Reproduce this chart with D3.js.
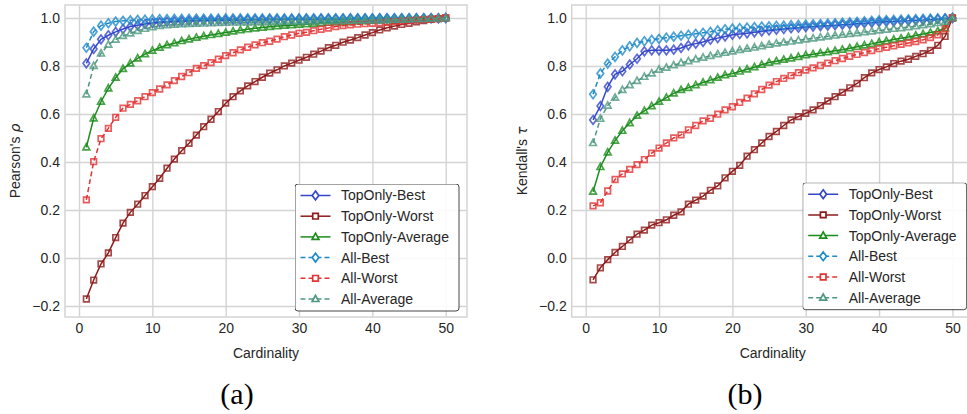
<!DOCTYPE html>
<meta charset="utf-8">
<script src="https://d3js.org/d3.v7.min.js"></script>
<style>
  body { margin: 0; background: #fff; }
  text { fill: #262626; }
</style>
<svg width="967" height="414"></svg>
<script>
// ---- data ----
var cardinality = [1,2,3,4,5,6,7,8,9,10,11,12,13,14,15,16,17,18,19,20,21,22,23,24,25,
                   26,27,28,29,30,31,32,33,34,35,36,37,38,39,40,41,42,43,44,45,46,47,48,49,50];
var xTicks = [0, 10, 20, 30, 40, 50];
var yTicks = [-0.2, 0.0, 0.2, 0.4, 0.6, 0.8, 1.0];
var seriesNames = ["TopOnly-Best", "TopOnly-Worst", "TopOnly-Average", "All-Best", "All-Worst", "All-Average"];

// Pearson's rho
var pTopBest = [0.811,0.871,0.911,0.928,0.942,0.954,0.964,0.970,0.975,0.979,
                0.982,0.984,0.986,0.987,0.988,0.989,0.990,0.990,0.991,0.991,
                0.992,0.992,0.993,0.993,0.993,0.994,0.994,0.994,0.995,0.995,
                0.995,0.995,0.996,0.996,0.996,0.996,0.997,0.997,0.997,0.997,
                0.998,0.998,0.998,0.998,0.998,0.999,0.999,0.999,0.999,1.000];
var pTopWorst = [-0.171,-0.092,-0.025,0.021,0.085,0.145,0.190,0.224,0.260,0.297,
                 0.332,0.374,0.412,0.447,0.478,0.512,0.547,0.578,0.610,0.645,
                 0.672,0.696,0.717,0.735,0.753,0.770,0.784,0.800,0.812,0.824,
                 0.836,0.849,0.862,0.876,0.886,0.899,0.908,0.918,0.929,0.939,
                 0.950,0.959,0.966,0.973,0.978,0.984,0.989,0.994,0.997,1.000];
var pTopAvg = [0.461,0.582,0.651,0.707,0.751,0.788,0.811,0.832,0.849,0.864,
               0.876,0.887,0.895,0.904,0.911,0.918,0.924,0.929,0.934,0.939,
               0.944,0.949,0.953,0.957,0.960,0.963,0.966,0.968,0.970,0.972,
               0.974,0.976,0.978,0.980,0.981,0.983,0.984,0.986,0.987,0.989,
               0.990,0.991,0.992,0.993,0.994,0.995,0.996,0.997,0.998,1.000];
var pAllBest = [0.876,0.943,0.968,0.978,0.985,0.988,0.990,0.992,0.993,0.994,
                0.995,0.995,0.996,0.996,0.996,0.997,0.997,0.997,0.997,0.998,
                0.998,0.998,0.998,0.998,0.998,0.998,0.998,0.998,0.998,0.998,
                0.999,0.999,0.999,0.999,0.999,0.999,0.999,0.999,0.999,0.999,
                0.999,0.999,0.999,0.999,0.999,0.999,0.999,0.999,0.999,1.000];
var pAllWorst = [0.242,0.401,0.497,0.540,0.586,0.624,0.640,0.655,0.672,0.689,
                 0.704,0.721,0.739,0.756,0.772,0.790,0.801,0.814,0.828,0.843,
                 0.855,0.867,0.878,0.888,0.897,0.903,0.912,0.922,0.929,0.936,
                 0.940,0.947,0.953,0.958,0.964,0.968,0.971,0.974,0.976,0.978,
                 0.980,0.983,0.985,0.987,0.989,0.991,0.993,0.995,0.997,1.000];
var pAllAvg = [0.682,0.800,0.852,0.889,0.910,0.925,0.936,0.946,0.955,0.962,
               0.967,0.970,0.972,0.974,0.975,0.976,0.977,0.978,0.979,0.980,
               0.981,0.981,0.982,0.983,0.983,0.984,0.984,0.985,0.985,0.986,
               0.986,0.987,0.987,0.988,0.988,0.989,0.989,0.990,0.990,0.991,
               0.991,0.992,0.993,0.993,0.994,0.995,0.996,0.997,0.998,1.000];

// Kendall's tau
var kTopBest = [0.575,0.633,0.713,0.765,0.778,0.806,0.830,0.861,0.865,0.865,
                0.865,0.868,0.875,0.886,0.893,0.900,0.909,0.916,0.923,0.930,
                0.933,0.936,0.940,0.944,0.948,0.951,0.954,0.957,0.959,0.962,
                0.964,0.966,0.968,0.970,0.972,0.974,0.976,0.978,0.980,0.983,
                0.984,0.985,0.987,0.988,0.990,0.991,0.993,0.995,0.997,1.000];
var kTopWorst = [-0.091,-0.041,-0.007,0.023,0.048,0.075,0.099,0.116,0.137,0.147,
                 0.159,0.178,0.192,0.224,0.241,0.258,0.282,0.300,0.334,0.361,
                 0.386,0.424,0.451,0.479,0.506,0.527,0.552,0.575,0.589,0.603,
                 0.617,0.635,0.654,0.672,0.690,0.709,0.727,0.751,0.771,0.785,
                 0.796,0.810,0.820,0.828,0.840,0.851,0.865,0.886,0.923,1.000];
var kTopAvg = [0.276,0.379,0.440,0.489,0.530,0.562,0.593,0.613,0.633,0.651,
               0.668,0.686,0.700,0.709,0.720,0.731,0.741,0.751,0.762,0.768,
               0.777,0.786,0.795,0.805,0.814,0.820,0.826,0.832,0.838,0.845,
               0.849,0.854,0.858,0.863,0.868,0.874,0.880,0.886,0.892,0.899,
               0.904,0.910,0.915,0.921,0.927,0.933,0.939,0.945,0.958,1.000];
var kAllBest = [0.682,0.769,0.810,0.838,0.865,0.882,0.896,0.903,0.909,0.913,
                0.918,0.922,0.926,0.930,0.934,0.938,0.942,0.948,0.953,0.956,
                0.958,0.960,0.962,0.964,0.965,0.967,0.968,0.970,0.971,0.972,
                0.974,0.975,0.977,0.978,0.980,0.982,0.984,0.986,0.988,0.990,
                0.991,0.992,0.993,0.994,0.995,0.996,0.997,0.998,0.999,1.000];
var kAllWorst = [0.217,0.230,0.279,0.327,0.350,0.369,0.389,0.410,0.437,0.458,
                 0.479,0.500,0.513,0.534,0.552,0.571,0.582,0.599,0.617,0.630,
                 0.648,0.666,0.684,0.702,0.720,0.735,0.748,0.760,0.772,0.783,
                 0.792,0.802,0.812,0.822,0.831,0.840,0.848,0.856,0.864,0.872,
                 0.878,0.884,0.890,0.896,0.902,0.909,0.918,0.930,0.955,1.000];
var kAllAvg = [0.479,0.580,0.635,0.668,0.700,0.720,0.738,0.755,0.769,0.785,
               0.793,0.803,0.813,0.820,0.828,0.835,0.842,0.849,0.855,0.861,
               0.867,0.872,0.877,0.883,0.889,0.894,0.898,0.902,0.907,0.911,
               0.915,0.919,0.923,0.927,0.930,0.934,0.937,0.941,0.944,0.948,
               0.951,0.955,0.958,0.962,0.966,0.970,0.974,0.979,0.985,1.000];

// ---- styles ----
var colors = ["#3346cc", "#8e1b1b", "#1c8c1c", "#1e8bc9", "#e23434", "#4f9880"];
var dashed = [false, false, false, true, true, true];
var markers = ["diamond", "square", "triangle", "diamond", "square", "triangle"];
var sans = "Liberation Sans, Arial, sans-serif";

function markerPath(type) {
  if (type == "diamond") return "M0,-4.4L3.3,0L0,4.4L-3.3,0Z";
  if (type == "square") return "M-2.8,-2.8H2.8V2.8H-2.8Z";
  return "M0,-3.7L3.4,2.5H-3.4Z";
}

var svg = d3.select("svg");
svg.append("defs").append("clipPath").attr("id", "page")
  .append("rect").attr("width", 967).attr("height", 414);

function panel(opt) {
  var x = d3.scaleLinear().domain([-1.91, 52.9]).range([opt.left, opt.left + 402]);
  var y = d3.scaleLinear().domain([-0.246, 1.054]).range([317, 5]);

  var g = svg.append("g").attr("clip-path", "url(#page)");

  // grid + tick labels
  g.append("g")
    .attr("transform", "translate(0,317)")
    .call(d3.axisBottom(x).tickValues(xTicks).tickSize(-312).tickPadding(6).tickFormat(d3.format("d")))
    .call(function (a) { a.select(".domain").remove(); })
    .call(function (a) {
      a.selectAll("line").attr("stroke", "#d4d4d4").attr("stroke-width", 1.4);
      a.selectAll("text").attr("font-size", 14).attr("fill", "#262626").attr("font-family", sans);
    });

  g.append("g")
    .attr("transform", "translate(" + opt.left + ",0)")
    .call(d3.axisLeft(y).tickValues(yTicks).tickSize(-402).tickPadding(5).tickFormat(d3.format(".1f")))
    .call(function (a) { a.select(".domain").remove(); })
    .call(function (a) {
      a.selectAll("line").attr("stroke", "#d4d4d4").attr("stroke-width", 1.4);
      a.selectAll("text").attr("font-size", 14).attr("fill", "#262626").attr("font-family", sans);
    });

  g.append("rect")
    .attr("x", opt.left).attr("y", 5).attr("width", 402).attr("height", 312)
    .attr("fill", "none").attr("stroke", "#d4d4d4").attr("stroke-width", 1.5);

  var line = d3.line()
    .x(function (d) { return x(d.c); })
    .y(function (d) { return y(d.v); });

  opt.series.forEach(function (vals, i) {
    var pts = cardinality.map(function (c, j) { return { c: c, v: vals[j] }; });
    g.append("path")
      .datum(pts)
      .attr("d", line)
      .attr("fill", "none")
      .attr("stroke", colors[i])
      .attr("stroke-width", 1.5)
      .attr("stroke-dasharray", dashed[i] ? "5,3" : null);
    g.append("g").selectAll("path")
      .data(pts)
      .enter().append("path")
      .attr("transform", function (d) { return "translate(" + x(d.c) + "," + y(d.v) + ")"; })
      .attr("d", markerPath(markers[i]))
      .attr("fill", "none")
      .attr("stroke", colors[i])
      .attr("stroke-opacity", 0.8)
      .attr("stroke-width", 1.7);
  });

  // axis labels
  svg.append("text")
    .attr("x", opt.left + 201).attr("y", 358)
    .attr("text-anchor", "middle").attr("font-size", 14).attr("font-family", sans)
    .text("Cardinality");

  var yl = svg.append("text")
    .attr("transform", "translate(" + opt.ylabelX + ",161) rotate(-90)")
    .attr("text-anchor", "middle").attr("font-size", 14).attr("font-family", sans);
  yl.append("tspan").text(opt.ylabel);
  yl.append("tspan").style("font-style", "italic").style("font-family", "DejaVu Sans")
    .text(opt.greek);

  svg.append("text")
    .attr("x", opt.captionX).attr("y", 404)
    .attr("text-anchor", "middle")
    .style("font-family", "'Liberation Serif', serif")
    .style("font-size", "30px").style("fill", "#000")
    .text(opt.caption);

  // legend
  var lg = svg.append("g").attr("clip-path", "url(#page)")
    .attr("transform", "translate(" + opt.legX + "," + opt.legY + ")");
  lg.append("rect")
    .attr("width", 164).attr("height", 127).attr("rx", 3)
    .attr("fill", "#fff").attr("fill-opacity", 0.9)
    .attr("stroke", "#333").attr("stroke-width", 0.9);
  var item = lg.selectAll(".item")
    .data(seriesNames)
    .enter().append("g")
    .attr("transform", function (d, i) { return "translate(0," + (11.5 + i * 20.7) + ")"; });
  item.append("line")
    .attr("x1", 5.5).attr("x2", 35.5)
    .attr("stroke", function (d, i) { return colors[i]; })
    .attr("stroke-width", 1.5)
    .attr("stroke-dasharray", function (d, i) { return dashed[i] ? "5,3" : null; });
  item.append("path")
    .attr("transform", "translate(20.5,0)")
    .attr("d", function (d, i) { return markerPath(markers[i]); })
    .attr("fill", "#fff")
    .attr("stroke", function (d, i) { return colors[i]; })
    .attr("stroke-width", 1.7);
  item.append("text")
    .attr("x", 46).attr("dy", "0.35em")
    .attr("font-size", 14).attr("font-family", sans)
    .text(function (d) { return d; });
}

panel({
  left: 65, series: [pTopBest, pTopWorst, pTopAvg, pAllBest, pAllWorst, pAllAvg],
  ylabel: "Pearson's ", greek: "\u03C1", ylabelX: 20, caption: "(a)", captionX: 237,
  legX: 295, legY: 184
});
panel({
  left: 571.7, series: [kTopBest, kTopWorst, kTopAvg, kAllBest, kAllWorst, kAllAvg],
  ylabel: "Kendall's ", greek: "\u03C4", ylabelX: 527, captionX: 745, caption: "(b)",
  legX: 802.7, legY: 182.7
});
</script>
